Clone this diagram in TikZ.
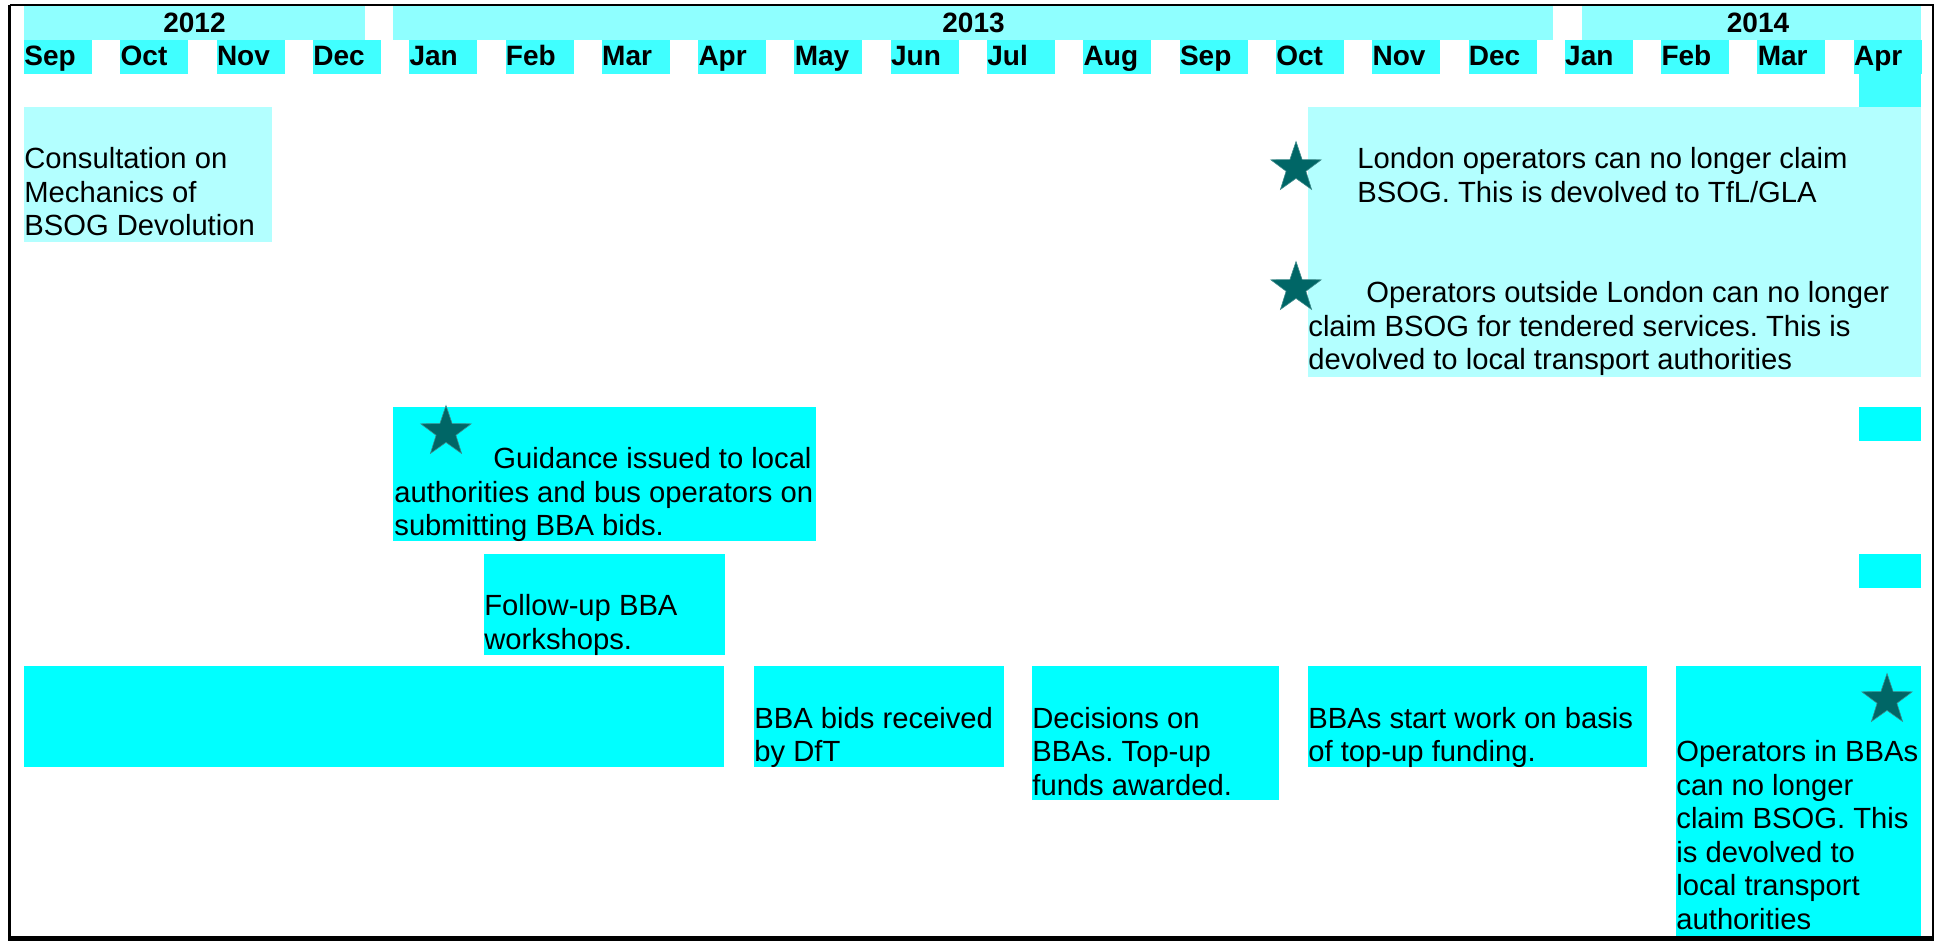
\documentclass[tikz,border=0pt]{standalone}
\usepackage{fontspec}
\setmainfont{Liberation Sans}
\usetikzlibrary{shapes.geometric}
\definecolor{yearfill}{RGB}{143,255,255}
\definecolor{monthfill}{RGB}{64,255,255}
\definecolor{palefill}{RGB}{179,255,255}
\definecolor{barfill}{RGB}{0,255,255}
\definecolor{starfill}{RGB}{0,102,102}
\frenchspacing
\begin{document}
\begin{tikzpicture}[x=0.5pt,y=-0.5pt]
\tikzstyle{every node}+=[inner sep=0pt, font=\fontsize{14.6}{16.75}\selectfont]
\tikzstyle{lbl}=[anchor=base west, align=left]
\tikzstyle{hdr}=[font=\fontsize{14}{16.75}\selectfont\bfseries]
\tikzstyle{starmark}=[star, star points=5, star point ratio=2.55, minimum size=26.5pt, fill=starfill, draw=starfill!75!white, line width=0.3pt]
\useasboundingbox (0,0) rectangle (1939,941);
% years
\fill [yearfill] (24,6) rectangle (365,40);
\draw (194.5,33) node [hdr, anchor=base] (y2012) {2012};
\fill [yearfill] (393,6) rectangle (1553,40);
\draw (973.5,33) node [hdr, anchor=base] (y2013) {2013};
\fill [yearfill] (1582,6) rectangle (1921,40);
\draw (1758,33) node [hdr, anchor=base] (y2014) {2014};
% months
\foreach \m [count=\i from 0] in {Sep,Oct,Nov,Dec,Jan,Feb,Mar,Apr,May,Jun,Jul,Aug,Sep,Oct,Nov,Dec,Jan,Feb,Mar,Apr} {
  \fill [monthfill] ({24+96.3*\i},40) rectangle +(68,34);
  \draw ({24+96.3*\i},66) node [hdr, anchor=base west] (m\i) {\m};
}
\fill [monthfill] (1859,74) rectangle (1921,107);
% consultation (anchor = last line)
\fill [palefill] (24,107) rectangle (272,242);
\draw (24,236) node [lbl] (cons) {Consultation on\\Mechanics of\\BSOG Devolution};
% london / outside london
\fill [palefill] (1308,107) rectangle (1921,377);
\draw (1357,202.5) node [lbl] (london) {London operators can no longer claim\\BSOG. This is devolved to TfL/GLA};
\draw (1308,370) node [lbl] (outside) {\hspace*{29pt}Operators outside London can no longer\\claim BSOG for tendered services. This is\\devolved to local transport authorities};
\draw (1296,168) node [starmark] (s1) {};
\draw (1296,288) node [starmark] (s2) {};
% guidance
\fill [barfill] (393,407) rectangle (816,541);
\draw (394,535.5) node [lbl] (guide) {\hspace*{49.5pt}Guidance issued to local\\authorities and bus operators on\\submitting BBA bids.};
\draw (446,432) node [starmark] (s3) {};
% follow-up
\fill [barfill] (484,554) rectangle (725,655);
\draw (484,649) node [lbl] (follow) {Follow-up BBA\\workshops.};
% april markers
\fill [barfill] (1859,407) rectangle (1921,441);
\fill [barfill] (1859,554) rectangle (1921,588);
% bottom row
\fill [barfill] (24,666) rectangle (724,767);
\fill [barfill] (754,666) rectangle (1004,767);
\draw (754,761.5) node [lbl] (bids) {BBA bids received\\by DfT};
\fill [barfill] (1032,666) rectangle (1279,800);
\draw (1032,795) node [lbl] (decide) {Decisions on\\BBAs. Top-up\\funds awarded.};
\fill [barfill] (1308,666) rectangle (1647,767);
\draw (1308,761.5) node [lbl] (start) {BBAs start work on basis\\of top-up funding.};
\fill [barfill] (1676,666) rectangle (1921,937);
\draw (1676,929) node [lbl] (ops) {Operators in BBAs\\can no longer\\claim BSOG. This\\is devolved to\\local transport\\authorities};
\draw (1887,700) node [starmark] (s4) {};
% frame
\draw [line width=1.5pt] (9.5,938) -- (9.5,5);
\draw [line width=1pt] (9.5,5) -- (1933,5) -- (1933,938);
\draw [line width=2.5pt] (8,938.5) -- (1934,938.5);
\end{tikzpicture}
\end{document}
